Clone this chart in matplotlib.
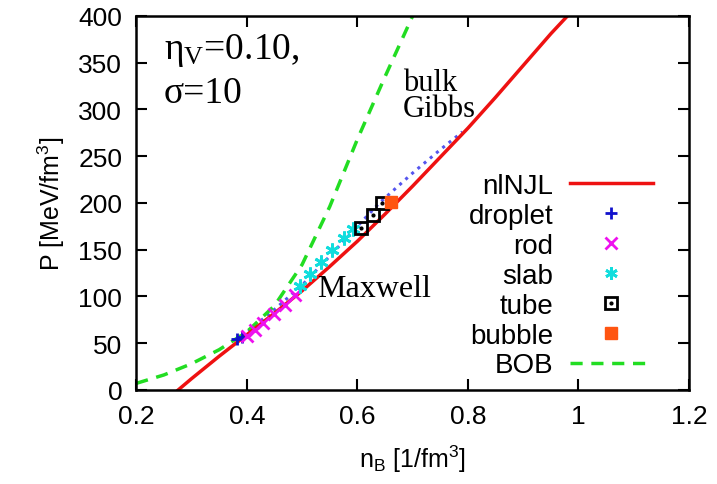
import matplotlib
matplotlib.use("Agg")
import matplotlib.pyplot as plt
from matplotlib.lines import Line2D

plt.rcParams['font.family'] = ['Liberation Sans', 'DejaVu Sans']
plt.rcParams['mathtext.fontset'] = 'custom'
plt.rcParams['mathtext.rm'] = 'Liberation Sans'

# nlNJL (red solid)
n_njl = [0.276, 0.30, 0.35, 0.40, 0.45, 0.50, 0.55, 0.60, 0.65, 0.70,
         0.75, 0.80, 0.85, 0.90, 0.95, 0.98]
p_njl = [0, 12, 36, 59, 82, 106, 132, 159, 188, 218, 249, 280, 313, 347, 381, 400]

# BOB (green dashed)
n_bob = [0.20, 0.25, 0.30, 0.35, 0.40, 0.45, 0.50, 0.55, 0.60, 0.65, 0.70]
p_bob = [7, 16, 28, 43, 62, 90, 134, 196, 268, 335, 400]

# bulk Gibbs (blue dotted)
n_gibbs = [0.38, 0.45, 0.50, 0.55, 0.60, 0.64, 0.70, 0.75, 0.79]
p_gibbs = [52, 86, 112, 143, 175, 200, 232, 257, 276]

# pasta phases
n_droplet = [0.383, 0.392]
p_droplet = [54, 57]
n_rod = [0.40, 0.415, 0.43, 0.45, 0.47, 0.487]
p_rod = [58, 64, 72, 81, 91, 101]
n_slab = [0.497, 0.515, 0.535, 0.555, 0.575, 0.593]
p_slab = [111, 124, 137, 150, 162, 172]
n_tube = [0.607, 0.628, 0.645]
p_tube = [173, 187, 200]
n_bubble = [0.661]
p_bubble = [201]

fig = plt.figure(figsize=(7.17, 4.85), dpi=100)
ax = fig.add_axes([0.19, 0.194, 0.771, 0.771])

lw = 2.5
ax.plot(n_gibbs, p_gibbs, ':', color='#5555ee', lw=2.2)
ax.plot(n_bob, p_bob, '--', color='#22dd22', lw=lw, dashes=(3.5, 2.5))
ax.plot(n_njl, p_njl, '-', color='#ee1111', lw=lw)

ms = 9
ax.plot(n_droplet, p_droplet, '+', color='#1111cc', ms=ms, mew=2, ls='none')
ax.plot(n_rod, p_rod, 'x', color='#ee11ee', ms=ms - 1, mew=2, ls='none')
ax.plot(n_slab, p_slab, marker=(6, 2, 0), color='#11dddd', ms=ms + 1, mew=2, ls='none')
ax.plot(n_tube, p_tube, 's', mfc='none', mec='black', ms=ms, mew=2, ls='none')
ax.plot(n_tube, p_tube, '.', color='black', ms=4, ls='none')
ax.plot(n_bubble, p_bubble, 's', color='#ff5511', ms=ms, ls='none')

h_njl = Line2D([], [], color='#ee1111', lw=lw)
h_drop = Line2D([], [], marker='+', color='#1111cc', ms=ms, mew=2, ls='none')
h_rod = Line2D([], [], marker='x', color='#ee11ee', ms=ms - 1, mew=2, ls='none')
h_slab = Line2D([], [], marker=(6, 2, 0), color='#11dddd', ms=ms, mew=2, ls='none')
h_tube1 = Line2D([], [], marker='s', mfc='none', mec='black', ms=ms - 1, mew=2, ls='none')
h_tube2 = Line2D([], [], marker='.', color='black', ms=4, ls='none')
h_bub = Line2D([], [], marker='s', color='#ff5511', ms=ms - 1, ls='none')
h_bob = Line2D([], [], color='#22dd22', lw=lw, ls='--', dashes=(3.5, 2.5))

leg = ax.legend([h_njl, h_drop, h_rod, h_slab, (h_tube1, h_tube2), h_bub, h_bob],
                ['nlNJL', 'droplet', 'rod', 'slab', 'tube', 'bubble', 'BOB'],
                loc='upper right', bbox_to_anchor=(0.96, 0.617), frameon=False,
                markerfirst=False, fontsize=20, handlelength=3.0,
                labelspacing=0.14, handletextpad=0.6, borderpad=0)
for t in leg.get_texts():
    t.set_ha('right')

serif = 'Liberation Serif'
ax.text(0.25, 364, r'$\mathregular{\eta_V}$=0.10,', family=serif, fontsize=27, va='center')
ax.text(0.25, 318, 'σ=10', family=serif, fontsize=27, va='center')
ax.text(0.683, 315, 'bulk\nGibbs', family=serif, fontsize=22, va='center',
        linespacing=0.9)
ax.text(0.528, 108, 'Maxwell', family=serif, fontsize=23, va='center')

ax.set_xlim(0.2, 1.2)
ax.set_ylim(0, 400)
ax.set_xticks([0.2, 0.4, 0.6, 0.8, 1.0, 1.2])
ax.set_xticklabels(['0.2', '0.4', '0.6', '0.8', '1', '1.2'])
ax.set_yticks(range(0, 401, 50))
ax.tick_params(direction='in', length=8, width=1.5, top=True, right=True,
               labelsize=19, pad=10)
for s in ax.spines.values():
    s.set_linewidth(1.8)

ax.set_xlabel(r'n$_\mathregular{B}$ [1/fm$\mathregular{^3}$]', fontsize=18, labelpad=11)
ax.set_ylabel(r'P [MeV/fm$\mathregular{^3}$]', fontsize=18, labelpad=8)

fig.savefig('out.png', dpi=100)
